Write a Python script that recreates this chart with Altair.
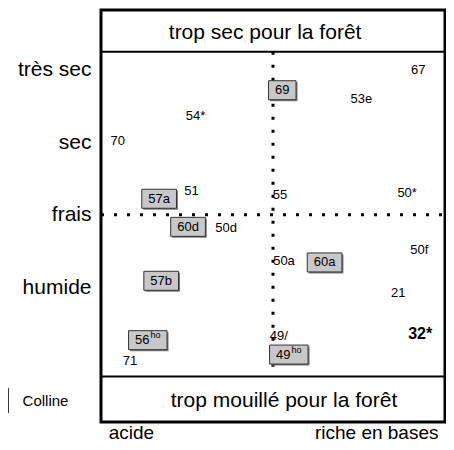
import altair as alt
import pandas as pd

FONT = "Liberation Sans"

# ---- axes (semantic units) ----
moisture_levels = ["très sec", "sec", "frais", "humide"]
moisture_pos = [1, 2, 3, 4]
gradient_labels = ["acide", "riche en bases"]
gradient_pos = [8.7, 80.0]

# frame in data units: x = acidity gradient (0-100), y = moisture index
X_MIN, X_MAX = 0, 100
Y_TOP, Y_BOTTOM = 0.18, 5.855
HEADER_Y, FOOTER_Y = 0.754, 5.227
SPLIT_X, SPLIT_Y = 50, 3

# ---- plain site labels ----
site_labels = ["67", "53e", "54*", "70", "51", "55", "50*", "50d", "50a", "50f", "21", "32*", "71", "49/"]
site_x = [92.2, 75.7, 27.5, 4.9, 26.3, 52.0, 89.0, 36.4, 53.2, 92.5, 86.4, 92.8, 8.4, 51.7]
site_y = [1.0, 1.407, 1.639, 1.98, 2.676, 2.73, 2.70, 3.18, 3.644, 3.48, 4.08, 4.64, 5.01, 4.667]
site_bold = [False] * 11 + [True] + [False, False]

# ---- boxed labels (Colline) ----
colline_labels = ["69", "57a", "60d", "60a", "57b", "56", "49"]
colline_sup = ["", "", "", "", "", "ho", "ho"]
colline_x = [52.7, 16.9, 25.3, 65.0, 17.5, 13.6, 54.6]
colline_y = [1.285, 2.78, 3.167, 3.657, 3.91, 4.728, 4.926]

# ---- band texts ----
band_labels = ["trop sec pour la forêt", "trop mouillé pour la forêt"]
band_x = [47.7, 53.2]
band_y = [0.494, 5.567]

legend_label = ["Colline"]
legend_x = [-22.8]
legend_y = [5.567]
legend_box_x = [-29.5, -26.9]
legend_box_y = [5.389, 5.73]

# ---- geometry helpers (style) ----
W, H = 344, 412
PX_X = W / (X_MAX - X_MIN)
PX_Y = H / (Y_BOTTOM - Y_TOP)
CHAR = 13 * 0.556
SUPCHAR = 9 * 0.556
PAD = 6.5
HALF_H = 9.5

xs = alt.Scale(domain=[X_MIN, X_MAX], nice=False, zero=False)
ys = alt.Scale(domain=[Y_TOP, Y_BOTTOM], reverse=True, nice=False, zero=False)

rows = []
for lab, sup, x, y in zip(colline_labels, colline_sup, colline_x, colline_y):
    main_w = len(lab) * CHAR
    sup_w = len(sup) * SUPCHAR + (1 if sup else 0)
    half = (main_w + sup_w) / 2 + PAD
    x1 = x - half / PX_X
    x2 = x + half / PX_X
    rows.append(dict(
        label=lab, sup=sup,
        x1=x1, x2=x2, y1=y - HALF_H / PX_Y, y2=y + HALF_H / PX_Y,
        sx1=x1 + 1.5 / PX_X, sx2=x2 + 1.5 / PX_X,
        sy1=y - HALF_H / PX_Y + 1.5 / PX_Y, sy2=y + HALF_H / PX_Y + 1.5 / PX_Y,
        tx=x1 + PAD / PX_X, supx=x1 + (PAD + main_w + 1) / PX_X, y=y,
    ))
boxes = pd.DataFrame(rows)

sites = pd.DataFrame(dict(label=site_labels, x=site_x, y=site_y, bold=site_bold))
bands = pd.DataFrame(dict(label=band_labels, x=band_x, y=band_y))
frame = pd.DataFrame(dict(x1=[X_MIN], x2=[X_MAX], y1=[Y_TOP], y2=[Y_BOTTOM]))
hlines = pd.DataFrame(dict(y=[HEADER_Y, FOOTER_Y], x1=[X_MIN] * 2, x2=[X_MAX] * 2))
vdot = pd.DataFrame(dict(x=[SPLIT_X], y1=[HEADER_Y], y2=[FOOTER_Y]))
hdot = pd.DataFrame(dict(y=[SPLIT_Y], x1=[X_MIN], x2=[X_MAX]))
legend = pd.DataFrame(dict(label=legend_label, x=legend_x, y=legend_y))
legend_box = pd.DataFrame(dict(x1=[legend_box_x[0]], x2=[legend_box_x[1]],
                               y1=[legend_box_y[0]], y2=[legend_box_y[1]]))


def label_expr(positions, names):
    expr = "''"
    for p, n in reversed(list(zip(positions, names))):
        expr = f"abs(datum.value - {p}) < 0.01 ? '{n}' : ({expr})"
    return expr


y_expr = label_expr(moisture_pos, moisture_levels)
x_expr = label_expr(gradient_pos, gradient_labels)

frame_layer = alt.Chart(frame).mark_rect(fillOpacity=0, stroke="black", strokeWidth=3).encode(
    x=alt.X("x1:Q", scale=xs, title=None,
            axis=alt.Axis(values=gradient_pos, labelExpr=x_expr, ticks=False, tickSize=0, domain=False,
                          grid=False, labelFont=FONT, labelFontSize=19, labelColor="black",
                          labelBaseline="alphabetic", labelPadding=16,
                          labelFlush=False, labelOverlap=False)),
    x2="x2:Q",
    y=alt.Y("y1:Q", scale=ys, title=None,
            axis=alt.Axis(values=moisture_pos, labelExpr=y_expr, ticks=False, tickSize=0, domain=False,
                          grid=False, labelFont=FONT, labelFontSize=21, labelColor="black",
                          labelPadding=10, labelFlush=False, labelOverlap=False)),
    y2="y2:Q",
)

hline_layer = alt.Chart(hlines).mark_rule(color="black", strokeWidth=2).encode(
    x=alt.X("x1:Q", scale=xs), x2="x2:Q", y=alt.Y("y:Q", scale=ys))

vdot_layer = alt.Chart(vdot).mark_rule(color="black", strokeWidth=3, strokeDash=[3, 10]).encode(
    x=alt.X("x:Q", scale=xs), y=alt.Y("y1:Q", scale=ys), y2="y2:Q")

hdot_layer = alt.Chart(hdot).mark_rule(color="black", strokeWidth=3, strokeDash=[3, 10]).encode(
    x=alt.X("x1:Q", scale=xs), x2="x2:Q", y=alt.Y("y:Q", scale=ys))

shadow_layer = alt.Chart(boxes).mark_rect(fill="#7a7a7a").encode(
    x=alt.X("sx1:Q", scale=xs), x2="sx2:Q",
    y=alt.Y("sy1:Q", scale=ys), y2="sy2:Q")

box_layer = alt.Chart(boxes).mark_rect(fill="#c8c8c8", stroke="#333333", strokeWidth=1).encode(
    x=alt.X("x1:Q", scale=xs), x2="x2:Q",
    y=alt.Y("y1:Q", scale=ys), y2="y2:Q")

box_text = alt.Chart(boxes).mark_text(font=FONT, fontSize=13, align="left", baseline="middle", color="black").encode(
    x=alt.X("tx:Q", scale=xs), y=alt.Y("y:Q", scale=ys), text="label:N")

sup_text = alt.Chart(boxes).transform_filter("datum.sup != ''").mark_text(
    font=FONT, fontSize=9, align="left", baseline="middle", dy=-5, color="black").encode(
    x=alt.X("supx:Q", scale=xs), y=alt.Y("y:Q", scale=ys), text="sup:N")

site_text = alt.Chart(sites).transform_filter("!datum.bold").mark_text(
    font=FONT, fontSize=13, align="center", baseline="middle", color="black").encode(
    x=alt.X("x:Q", scale=xs), y=alt.Y("y:Q", scale=ys), text="label:N")

site_bold_text = alt.Chart(sites).transform_filter("datum.bold").mark_text(
    font=FONT, fontSize=16, fontWeight="bold", align="center", baseline="middle", color="black").encode(
    x=alt.X("x:Q", scale=xs), y=alt.Y("y:Q", scale=ys), text="label:N")

band_text = alt.Chart(bands).mark_text(font=FONT, fontSize=21, align="center", baseline="middle", color="black").encode(
    x=alt.X("x:Q", scale=xs), y=alt.Y("y:Q", scale=ys), text="label:N")

legend_box_layer = alt.Chart(legend_box).mark_rect(fill="#c8c8c8", stroke="#333333", strokeWidth=1).encode(
    x=alt.X("x1:Q", scale=xs), x2="x2:Q",
    y=alt.Y("y1:Q", scale=ys), y2="y2:Q")

legend_text = alt.Chart(legend).mark_text(font=FONT, fontSize=15, align="left", baseline="middle", color="black").encode(
    x=alt.X("x:Q", scale=xs), y=alt.Y("y:Q", scale=ys), text="label:N")

chart = alt.layer(
    frame_layer,
    hline_layer, vdot_layer, hdot_layer,
    shadow_layer, box_layer, box_text, sup_text,
    site_text, site_bold_text, band_text,
    legend_box_layer, legend_text,
).properties(
    width=W, height=H,
    autosize=alt.AutoSizeParams(type="none"),
    padding={"left": 93, "top": 2, "right": 1, "bottom": 20},
).configure_view(stroke=None)

chart.save("out.html", embed_options={"renderer": "svg", "actions": False})
